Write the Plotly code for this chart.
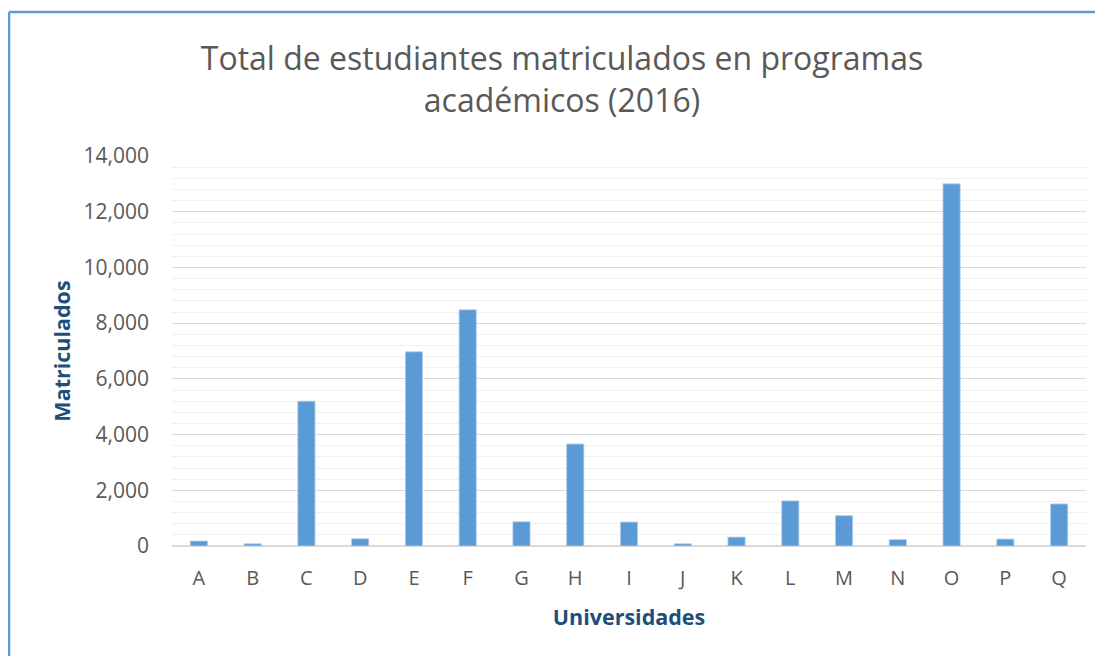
import plotly.graph_objects as go

categories = ["A", "B", "C", "D", "E", "F", "G", "H", "I", "J", "K", "L", "M", "N", "O", "P", "Q"]
matriculados = [180, 80, 5200, 260, 6970, 8480, 870, 3660, 860, 80, 320, 1620, 1090, 230, 13000, 250, 1510]
y_ticks = [0, 2000, 4000, 6000, 8000, 10000, 12000, 14000]
title_text = "Total de estudiantes matriculados en programas<br>académicos (2016)"
x_title = "Universidades"
y_title = "Matriculados"

W, H = 1103, 656
OFF = 8  # page body offset
L, R, T, B = 172 - OFF, 1086 - OFF, 156 - OFF, 546 - OFF
pw, ph = R - L, B - T

def px(x):
    return (x - OFF - L) / pw

def py(y):
    return (B - (y - OFF)) / ph

font_family = "Open Sans"

fig = go.Figure()
fig.add_trace(go.Bar(
    x=categories, y=matriculados,
    marker=dict(color="#5B9BD5", line=dict(color="#B4CFEB", width=0.8)),
    width=0.32,
))

fig.update_layout(
    width=W, height=H,
    margin=dict(l=L, r=W - R, t=T, b=H - B, pad=0),
    paper_bgcolor="white", plot_bgcolor="white",
    showlegend=False,
    font=dict(family=font_family, color="#595959"),
    title=dict(text=title_text, x=(562 - OFF) / W, xanchor="center", y=1 - (70 - OFF) / H, yanchor="middle",
               xref="container", yref="container",
               font=dict(size=32, color="#595959", family=font_family)),
    xaxis=dict(
        tickfont=dict(size=20, color="#595959"),
        showgrid=False, showline=False, ticks="",
        ticklabelstandoff=18,
        title=dict(text=x_title, font=dict(size=21.5, color="#1F4E79", family=font_family, weight="bold"), standoff=19),
    ),
    yaxis=dict(
        range=[0, 14000], tickvals=y_ticks, tickformat=",d",
        tickfont=dict(size=21, color="#595959"),
        showgrid=True, gridcolor="#D9D9D9", gridwidth=1,
        minor=dict(dtick=400, tick0=0, showgrid=True, gridcolor="#F0F0F0", gridwidth=1),
        zeroline=True, zerolinecolor="#D9D9D9", zerolinewidth=2,
        showline=False, ticks="",
        ticklabelstandoff=22,
        title=dict(text=y_title, font=dict(size=21.5, color="#1F4E79", family=font_family, weight="bold"), standoff=6),
    ),
    shapes=[
        dict(type="line", xref="paper", yref="paper", x0=px(9), x1=px(1120), y0=py(12), y1=py(12),
             line=dict(color="#5B9BD5", width=2.5)),
        dict(type="line", xref="paper", yref="paper", x0=px(9), x1=px(9), y0=py(12), y1=py(680),
             line=dict(color="#5B9BD5", width=2.5)),
    ],
)

fig.write_html("out.html")
